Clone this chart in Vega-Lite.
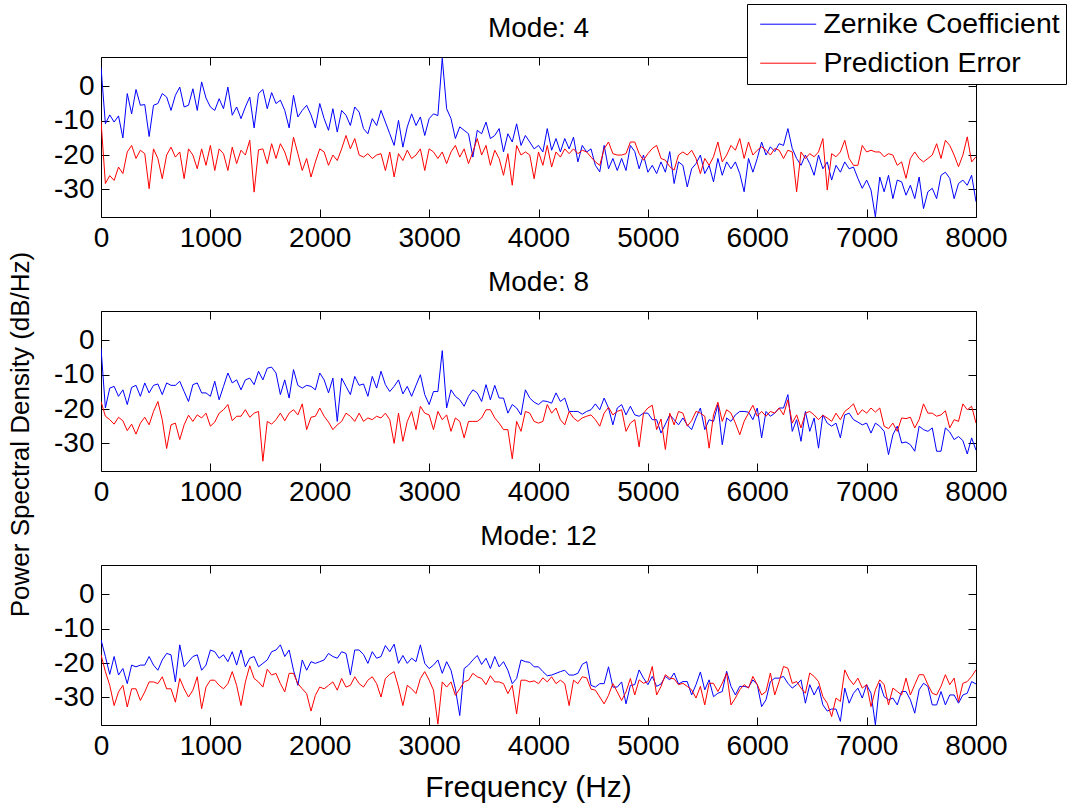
{
  "$schema": "https://vega.github.io/schema/vega-lite/v6.json",
  "background": "white",
  "padding": {"left": 7, "top": 3, "right": 0, "bottom": 0},
  "spacing": 94,
  "bounds": "flush",
  "config": {
    "font": "Liberation Sans",
    "view": {"stroke": "black", "strokeWidth": 1},
    "title": {"font": "Liberation Sans", "fontSize": 28, "fontWeight": "normal", "color": "black", "anchor": "middle", "offset": 14, "frame": "group"},
    "axis": {
      "domain": false, "grid": false, "labelFlush": false,
      "tickColor": "black", "tickSize": -8, "tickWidth": 1,
      "labelFont": "Liberation Sans", "labelFontSize": 28, "labelColor": "black", "labelPadding": 15,
      "titleFont": "Liberation Sans", "titleFontSize": 29, "titleFontWeight": "normal", "titleColor": "black"
    }
  },
  "datasets": {
    "p4": [
      {"f":0,"z":5.6,"e":-10},{"f":40,"z":-10.9,"e":-28.3},{"f":80,"z":-8.3,"e":-26},{"f":120,"z":-10.4,"e":-27.4},{"f":160,"z":-8.6,"e":-23.5},
      {"f":200,"z":-15,"e":-25.4},{"f":240,"z":-2.1,"e":-19.1},{"f":280,"z":-8,"e":-17.2},{"f":320,"z":-0.9,"e":-21},{"f":360,"z":-5.5,"e":-18.6},
      {"f":400,"z":-5.3,"e":-19.6},{"f":440,"z":-14.6,"e":-29.8},{"f":480,"z":-5.5,"e":-18.2},{"f":520,"z":-5,"e":-21},{"f":560,"z":-2.1,"e":-26.9},
      {"f":600,"z":-3.1,"e":-20},{"f":640,"z":-7,"e":-17.7},{"f":680,"z":-2.6,"e":-20.6},{"f":720,"z":-0.2,"e":-19.1},{"f":760,"z":-6,"e":-26.9},
      {"f":800,"z":-5.5,"e":-18.2},{"f":840,"z":-0.7,"e":-20},{"f":880,"z":-7,"e":-24},{"f":920,"z":1.3,"e":-18.2},{"f":960,"z":-3.4,"e":-23},
      {"f":1000,"z":-6,"e":-17.2},{"f":1040,"z":-7,"e":-24.5},{"f":1080,"z":-3.6,"e":-18.2},{"f":1120,"z":-6.5,"e":-19.6},{"f":1160,"z":-0.2,"e":-24.5},
      {"f":1200,"z":-8.4,"e":-17.7},{"f":1240,"z":-6,"e":-22.5},{"f":1280,"z":-9.4,"e":-18.6},{"f":1320,"z":-6,"e":-20},{"f":1360,"z":-3.1,"e":-15.7},
      {"f":1400,"z":-12.1,"e":-30.8},{"f":1440,"z":-2.1,"e":-18.5},{"f":1480,"z":-0.9,"e":-18.2},{"f":1520,"z":-6.5,"e":-22.5},{"f":1560,"z":-1.8,"e":-16.7},
      {"f":1600,"z":-5,"e":-21},{"f":1640,"z":-4,"e":-16.7},{"f":1680,"z":-7,"e":-19.1},{"f":1720,"z":-12.1,"e":-23},{"f":1760,"z":-2.6,"e":-14.8},
      {"f":1800,"z":-8.9,"e":-19.6},{"f":1840,"z":-7,"e":-24.5},{"f":1880,"z":-5.5,"e":-21},{"f":1920,"z":-8.3,"e":-26.4},{"f":1960,"z":-12.1,"e":-22},
      {"f":2000,"z":-5,"e":-18.2},{"f":2040,"z":-9.4,"e":-19.1},{"f":2080,"z":-12.8,"e":-23},{"f":2120,"z":-6.5,"e":-20},{"f":2160,"z":-13.3,"e":-21.6},
      {"f":2200,"z":-7,"e":-18.2},{"f":2240,"z":-8.4,"e":-14.3},{"f":2280,"z":-11.4,"e":-18.2},{"f":2320,"z":-6,"e":-15.2},{"f":2360,"z":-7.5,"e":-20},
      {"f":2400,"z":-12.3,"e":-20.6},{"f":2440,"z":-13.8,"e":-19.6},{"f":2480,"z":-9.4,"e":-21},{"f":2520,"z":-11.4,"e":-20},{"f":2560,"z":-7,"e":-19.6},
      {"f":2600,"z":-10.4,"e":-24.5},{"f":2640,"z":-13.8,"e":-19.1},{"f":2680,"z":-17.2,"e":-26.4},{"f":2720,"z":-9.9,"e":-19.6},{"f":2760,"z":-17.7,"e":-21.6},
      {"f":2800,"z":-11.8,"e":-18.6},{"f":2840,"z":-8,"e":-21},{"f":2880,"z":-11.4,"e":-20},{"f":2920,"z":-8.9,"e":-18.2},{"f":2960,"z":-14.3,"e":-24.5},
      {"f":3000,"z":-9.4,"e":-18.2},{"f":3040,"z":-8,"e":-19.1},{"f":3080,"z":-8.5,"e":-21},{"f":3120,"z":8.2,"e":-19.1},{"f":3160,"z":-6.5,"e":-22.5},
      {"f":3200,"z":-9.4,"e":-19.1},{"f":3240,"z":-15.2,"e":-17.2},{"f":3280,"z":-11.8,"e":-20.6},{"f":3320,"z":-12.8,"e":-18.2},{"f":3360,"z":-13.8,"e":-22.5},
      {"f":3400,"z":-20.6,"e":-19.1},{"f":3440,"z":-12.8,"e":-15.2},{"f":3480,"z":-13.8,"e":-20},{"f":3520,"z":-10.4,"e":-17.2},{"f":3560,"z":-15.2,"e":-23},
      {"f":3600,"z":-14.3,"e":-18.6},{"f":3640,"z":-12.3,"e":-21},{"f":3680,"z":-19.1,"e":-25.9},{"f":3720,"z":-13.8,"e":-19.6},{"f":3760,"z":-16.2,"e":-28.8},
      {"f":3800,"z":-10.9,"e":-17.2},{"f":3840,"z":-17.2,"e":-20},{"f":3880,"z":-14.3,"e":-19.1},{"f":3920,"z":-16.2,"e":-20},{"f":3960,"z":-18.2,"e":-26.9},
      {"f":4000,"z":-17.2,"e":-19.1},{"f":4040,"z":-19.1,"e":-23},{"f":4080,"z":-12.3,"e":-17.2},{"f":4120,"z":-18.6,"e":-23.5},{"f":4160,"z":-15.2,"e":-19.1},
      {"f":4200,"z":-19.1,"e":-20.6},{"f":4240,"z":-15.2,"e":-18.2},{"f":4280,"z":-18.2,"e":-19.6},{"f":4320,"z":-14.8,"e":-18.2},{"f":4360,"z":-22,"e":-19.6},
      {"f":4400,"z":-17.2,"e":-18.6},{"f":4440,"z":-19.1,"e":-19.1},{"f":4480,"z":-18.2,"e":-20.6},{"f":4520,"z":-23,"e":-22},{"f":4560,"z":-24.9,"e":-23},
      {"f":4600,"z":-17.2,"e":-18.2},{"f":4640,"z":-24,"e":-16.2},{"f":4680,"z":-21,"e":-19.6},{"f":4720,"z":-24.5,"e":-20},{"f":4760,"z":-21,"e":-20},
      {"f":4800,"z":-24.5,"e":-19.6},{"f":4840,"z":-17.2,"e":-16.2},{"f":4880,"z":-19,"e":-16.2},{"f":4920,"z":-24,"e":-19.6},{"f":4960,"z":-20,"e":-21.5},
      {"f":5000,"z":-25,"e":-19.6},{"f":5040,"z":-23,"e":-18.1},{"f":5080,"z":-25.4,"e":-17.2},{"f":5120,"z":-22,"e":-21},{"f":5160,"z":-25,"e":-21.5},
      {"f":5200,"z":-19,"e":-23.4},{"f":5240,"z":-28.3,"e":-24.4},{"f":5280,"z":-22,"e":-20},{"f":5320,"z":-23,"e":-19.1},{"f":5360,"z":-29.3,"e":-20},
      {"f":5400,"z":-24,"e":-18.6},{"f":5440,"z":-22.5,"e":-21},{"f":5480,"z":-20,"e":-25.4},{"f":5520,"z":-25.4,"e":-21},{"f":5560,"z":-23,"e":-23},
      {"f":5600,"z":-27.8,"e":-20.5},{"f":5640,"z":-21,"e":-16.2},{"f":5680,"z":-25.9,"e":-22},{"f":5720,"z":-22,"e":-20},{"f":5760,"z":-24,"e":-17.2},
      {"f":5800,"z":-22,"e":-18.6},{"f":5840,"z":-25.4,"e":-15.2},{"f":5880,"z":-30.7,"e":-21},{"f":5920,"z":-21,"e":-16.2},{"f":5960,"z":-25,"e":-20},
      {"f":6000,"z":-21,"e":-18.6},{"f":6040,"z":-16.2,"e":-17.6},{"f":6080,"z":-20,"e":-18.6},{"f":6120,"z":-17.6,"e":-20},{"f":6160,"z":-19,"e":-18.1},
      {"f":6200,"z":-16.7,"e":-18.6},{"f":6240,"z":-17.2,"e":-21},{"f":6280,"z":-12.3,"e":-18.6},{"f":6320,"z":-18.1,"e":-19.1},{"f":6360,"z":-21,"e":-30.7},
      {"f":6400,"z":-23,"e":-19.1},{"f":6440,"z":-20,"e":-21},{"f":6480,"z":-22.5,"e":-19.6},{"f":6520,"z":-25.9,"e":-20.5},{"f":6560,"z":-20,"e":-19.1},
      {"f":6600,"z":-24,"e":-15.2},{"f":6640,"z":-22,"e":-30.2},{"f":6680,"z":-27.3,"e":-19.6},{"f":6720,"z":-23,"e":-20.5},{"f":6760,"z":-25,"e":-19.1},
      {"f":6800,"z":-22,"e":-15.7},{"f":6840,"z":-24,"e":-21},{"f":6880,"z":-23.5,"e":-23},{"f":6920,"z":-26.8,"e":-23},{"f":6960,"z":-29.7,"e":-17.2},
      {"f":7000,"z":-27.3,"e":-19.1},{"f":7040,"z":-30.2,"e":-18.6},{"f":7080,"z":-38,"e":-19.1},{"f":7120,"z":-26.4,"e":-19.1},{"f":7160,"z":-30.7,"e":-20.5},
      {"f":7200,"z":-25.9,"e":-19.6},{"f":7240,"z":-32.7,"e":-20},{"f":7280,"z":-27.3,"e":-23},{"f":7320,"z":-27.8,"e":-22},{"f":7360,"z":-31.7,"e":-26.8},
      {"f":7400,"z":-28.8,"e":-21},{"f":7440,"z":-32.7,"e":-19.1},{"f":7480,"z":-26.4,"e":-21},{"f":7520,"z":-35.6,"e":-22},{"f":7560,"z":-30.7,"e":-21},
      {"f":7600,"z":-29.7,"e":-20},{"f":7640,"z":-32.7,"e":-16.7},{"f":7680,"z":-25.9,"e":-21},{"f":7720,"z":-25,"e":-15.7},{"f":7760,"z":-26.8,"e":-17.2},
      {"f":7800,"z":-32.7,"e":-20},{"f":7840,"z":-28.3,"e":-23.4},{"f":7880,"z":-27.3,"e":-20},{"f":7920,"z":-28.8,"e":-14.7},{"f":7960,"z":-25.9,"e":-22},
      {"f":8000,"z":-33.6,"e":-20.5}
    ],
    "p8": [
      {"f":0,"z":-2.2,"e":-17.8},{"f":40,"z":-19.7,"e":-22.1},{"f":80,"z":-13.9,"e":-23.1},{"f":120,"z":-13.4,"e":-24.4},{"f":160,"z":-16.3,"e":-22.4},
      {"f":200,"z":-14.4,"e":-23.4},{"f":240,"z":-18.7,"e":-26.3},{"f":280,"z":-13.7,"e":-24.4},{"f":320,"z":-13.1,"e":-27.3},{"f":360,"z":-16.3,"e":-24.1},
      {"f":400,"z":-12.4,"e":-22.4},{"f":440,"z":-15.3,"e":-24.6},{"f":480,"z":-13.1,"e":-20.7},{"f":520,"z":-12.7,"e":-17.8},{"f":560,"z":-15.8,"e":-23.1},
      {"f":600,"z":-12.4,"e":-31.5},{"f":640,"z":-13.1,"e":-24.6},{"f":680,"z":-13.1,"e":-24.1},{"f":720,"z":-11.9,"e":-28.9},{"f":760,"z":-14.9,"e":-24.6},
      {"f":800,"z":-17.8,"e":-21.8},{"f":840,"z":-12.9,"e":-23.6},{"f":880,"z":-12.4,"e":-21.7},{"f":920,"z":-15.3,"e":-22.6},{"f":960,"z":-15.3,"e":-21.2},
      {"f":1000,"z":-16.3,"e":-25},{"f":1040,"z":-11.9,"e":-23.8},{"f":1080,"z":-17.3,"e":-21.2},{"f":1120,"z":-13.4,"e":-20.2},{"f":1160,"z":-9.5,"e":-18.7},
      {"f":1200,"z":-12.4,"e":-23.4},{"f":1240,"z":-11.5,"e":-22.1},{"f":1280,"z":-14.4,"e":-22.1},{"f":1320,"z":-11.5,"e":-20.2},{"f":1360,"z":-11,"e":-22.4},
      {"f":1400,"z":-12.9,"e":-21.2},{"f":1440,"z":-9,"e":-20.7},{"f":1480,"z":-11.5,"e":-35.2},{"f":1520,"z":-8.1,"e":-23.6},{"f":1560,"z":-7.8,"e":-24.4},
      {"f":1600,"z":-9.5,"e":-23.1},{"f":1640,"z":-15.8,"e":-21.2},{"f":1680,"z":-11.5,"e":-23.4},{"f":1720,"z":-16.8,"e":-21.2},{"f":1760,"z":-8.5,"e":-20.2},
      {"f":1800,"z":-13.1,"e":-21.7},{"f":1840,"z":-13.9,"e":-18.5},{"f":1880,"z":-13.1,"e":-26},{"f":1920,"z":-13.4,"e":-22.4},{"f":1960,"z":-14.4,"e":-22.1},
      {"f":2000,"z":-9.5,"e":-19.7},{"f":2040,"z":-11.5,"e":-22.1},{"f":2080,"z":-15.3,"e":-23.8},{"f":2120,"z":-11,"e":-26},{"f":2160,"z":-23.6,"e":-24.6},
      {"f":2200,"z":-11,"e":-23.6},{"f":2240,"z":-13.4,"e":-21.2},{"f":2280,"z":-15.8,"e":-22.1},{"f":2320,"z":-10.5,"e":-23.6},{"f":2360,"z":-13.1,"e":-21.2},
      {"f":2400,"z":-12.7,"e":-23.6},{"f":2440,"z":-16.3,"e":-22.6},{"f":2480,"z":-10.5,"e":-23.1},{"f":2520,"z":-13.9,"e":-22.1},{"f":2560,"z":-9,"e":-22.6},
      {"f":2600,"z":-12.9,"e":-21.2},{"f":2640,"z":-14.9,"e":-23.1},{"f":2680,"z":-13.4,"e":-30},{"f":2720,"z":-11.5,"e":-21.2},{"f":2760,"z":-15.6,"e":-29.4},
      {"f":2800,"z":-13.4,"e":-23.6},{"f":2840,"z":-16.3,"e":-20.7},{"f":2880,"z":-13.1,"e":-26},{"f":2920,"z":-10,"e":-19.2},{"f":2960,"z":-15.8,"e":-21.2},
      {"f":3000,"z":-18.7,"e":-21.7},{"f":3040,"z":-14.9,"e":-26},{"f":3080,"z":-14.9,"e":-20.7},{"f":3120,"z":-3,"e":-23.1},{"f":3160,"z":-19.7,"e":-21.7},
      {"f":3200,"z":-14.4,"e":-26.5},{"f":3240,"z":-16.3,"e":-22.6},{"f":3280,"z":-17.3,"e":-23.6},{"f":3320,"z":-19.2,"e":-28.4},{"f":3360,"z":-16.3,"e":-23.6},
      {"f":3400,"z":-14.4,"e":-23.6},{"f":3440,"z":-15.3,"e":-23.6},{"f":3480,"z":-17.8,"e":-22.6},{"f":3520,"z":-12.9,"e":-20.2},{"f":3560,"z":-17.3,"e":-20.2},
      {"f":3600,"z":-13.1,"e":-22.6},{"f":3640,"z":-16.8,"e":-24.1},{"f":3680,"z":-16.8,"e":-26},{"f":3720,"z":-21.2,"e":-26},{"f":3760,"z":-18.7,"e":-34.5},
      {"f":3800,"z":-19.7,"e":-23.6},{"f":3840,"z":-21.7,"e":-26.5},{"f":3880,"z":-14.4,"e":-20.7},{"f":3920,"z":-16.8,"e":-21.2},{"f":3960,"z":-18,"e":-23.6},
      {"f":4000,"z":-18.7,"e":-24.1},{"f":4040,"z":-17.6,"e":-23.6},{"f":4080,"z":-17.8,"e":-18.7},{"f":4120,"z":-18.3,"e":-21.2},{"f":4160,"z":-15.3,"e":-19.7},
      {"f":4200,"z":-17.8,"e":-23.1},{"f":4240,"z":-16.8,"e":-24.6},{"f":4280,"z":-20.7,"e":-20.7},{"f":4320,"z":-20.7,"e":-22.6},{"f":4360,"z":-20.7,"e":-23.6},
      {"f":4400,"z":-21.5,"e":-22.6},{"f":4440,"z":-20.7,"e":-22.1},{"f":4480,"z":-20.2,"e":-21.7},{"f":4520,"z":-18.5,"e":-23.1},{"f":4560,"z":-20.2,"e":-25},
      {"f":4600,"z":-16.8,"e":-21.2},{"f":4640,"z":-19.7,"e":-19.5},{"f":4680,"z":-24.6,"e":-21.7},{"f":4720,"z":-19.7,"e":-20.7},{"f":4760,"z":-18.7,"e":-20.2},
      {"f":4800,"z":-21.7,"e":-26.5},{"f":4840,"z":-19.2,"e":-24.1},{"f":4880,"z":-21.7,"e":-23.1},{"f":4920,"z":-22.1,"e":-31},{"f":4960,"z":-21.2,"e":-21.2},
      {"f":5000,"z":-21.2,"e":-19.7},{"f":5040,"z":-23.1,"e":-18.9},{"f":5080,"z":-23.1,"e":-26},{"f":5120,"z":-27,"e":-22.9},{"f":5160,"z":-24.4,"e":-31.8},
      {"f":5200,"z":-21.7,"e":-21.2},{"f":5240,"z":-23.1,"e":-24.6},{"f":5280,"z":-24.6,"e":-20.7},{"f":5320,"z":-22.6,"e":-21.2},{"f":5360,"z":-24.6,"e":-25},
      {"f":5400,"z":-26,"e":-23.4},{"f":5440,"z":-22.6,"e":-20.7},{"f":5480,"z":-19.7,"e":-21.2},{"f":5520,"z":-26,"e":-22.1},{"f":5560,"z":-23.1,"e":-31.4},
      {"f":5600,"z":-23.6,"e":-21.7},{"f":5640,"z":-18.7,"e":-18},{"f":5680,"z":-30.4,"e":-23.6},{"f":5720,"z":-22.6,"e":-20.2},{"f":5760,"z":-23.6,"e":-21.2},
      {"f":5800,"z":-21.7,"e":-24.1},{"f":5840,"z":-20.7,"e":-27.5},{"f":5880,"z":-20.7,"e":-23.6},{"f":5920,"z":-20.9,"e":-21.2},{"f":5960,"z":-23.1,"e":-18.9},
      {"f":6000,"z":-19.7,"e":-22.1},{"f":6040,"z":-28.4,"e":-20.7},{"f":6080,"z":-20.7,"e":-22.1},{"f":6120,"z":-22.1,"e":-20.7},{"f":6160,"z":-21.2,"e":-21.2},
      {"f":6200,"z":-19.7,"e":-19.7},{"f":6240,"z":-19.7,"e":-21.7},{"f":6280,"z":-15.8,"e":-17.3},{"f":6320,"z":-26.5,"e":-24.1},{"f":6360,"z":-23.1,"e":-21.7},
      {"f":6400,"z":-29.4,"e":-25.5},{"f":6440,"z":-20.7,"e":-21.2},{"f":6480,"z":-26.5,"e":-20.7},{"f":6520,"z":-22.6,"e":-21.7},{"f":6560,"z":-31.4,"e":-23.1},
      {"f":6600,"z":-21.7,"e":-21.8},{"f":6640,"z":-24.1,"e":-22.6},{"f":6680,"z":-25,"e":-23.6},{"f":6720,"z":-24.1,"e":-21.2},{"f":6760,"z":-28.4,"e":-23.1},
      {"f":6800,"z":-21.7,"e":-20.7},{"f":6840,"z":-21.2,"e":-19.7},{"f":6880,"z":-23.1,"e":-18.5},{"f":6920,"z":-23.8,"e":-21.7},{"f":6960,"z":-24.6,"e":-20.2},
      {"f":7000,"z":-24.1,"e":-21.2},{"f":7040,"z":-27,"e":-19.7},{"f":7080,"z":-24.1,"e":-20.9},{"f":7120,"z":-25,"e":-19.7},{"f":7160,"z":-26.5,"e":-25},
      {"f":7200,"z":-33.3,"e":-25.7},{"f":7240,"z":-27.5,"e":-24.1},{"f":7280,"z":-25,"e":-26.5},{"f":7320,"z":-29.9,"e":-22.6},{"f":7360,"z":-29.6,"e":-22.8},
      {"f":7400,"z":-30.4,"e":-22.4},{"f":7440,"z":-32.3,"e":-25.5},{"f":7480,"z":-25,"e":-23.1},{"f":7520,"z":-26,"e":-18.5},{"f":7560,"z":-26.5,"e":-21.2},
      {"f":7600,"z":-25.5,"e":-21.2},{"f":7640,"z":-32.3,"e":-22.1},{"f":7680,"z":-32.3,"e":-21.7},{"f":7720,"z":-25.5,"e":-20.5},{"f":7760,"z":-26.7,"e":-25.5},
      {"f":7800,"z":-28.9,"e":-23.1},{"f":7840,"z":-28,"e":-23.6},{"f":7880,"z":-29.2,"e":-18.5},{"f":7920,"z":-33.1,"e":-20.2},{"f":7960,"z":-28.4,"e":-19.2},
      {"f":8000,"z":-32,"e":-24.1}
    ],
    "p12": [
      {"f":0,"z":-13.2,"e":-17.6},{"f":40,"z":-18.1,"e":-22.5},{"f":80,"z":-23.3,"e":-26.5},{"f":120,"z":-18.1,"e":-32.4},{"f":160,"z":-23.5,"e":-28.4},
      {"f":200,"z":-21.6,"e":-26.5},{"f":240,"z":-26,"e":-32.8},{"f":280,"z":-20.6,"e":-27.5},{"f":320,"z":-21.1,"e":-27.5},{"f":360,"z":-20.6,"e":-30.9},
      {"f":400,"z":-20.6,"e":-28.4},{"f":440,"z":-18.1,"e":-25.5},{"f":480,"z":-20.6,"e":-25.5},{"f":520,"z":-22.1,"e":-26},{"f":560,"z":-19.1,"e":-24},
      {"f":600,"z":-17.2,"e":-27.5},{"f":640,"z":-17.6,"e":-27.5},{"f":680,"z":-25.5,"e":-31.4},{"f":720,"z":-14.7,"e":-24.5},{"f":760,"z":-21.1,"e":-27.5},
      {"f":800,"z":-19.6,"e":-29.9},{"f":840,"z":-18.1,"e":-27.9},{"f":880,"z":-17.6,"e":-24},{"f":920,"z":-22.1,"e":-33.3},{"f":960,"z":-20.6,"e":-27},
      {"f":1000,"z":-16.2,"e":-25},{"f":1040,"z":-16.7,"e":-25},{"f":1080,"z":-18.6,"e":-26.5},{"f":1120,"z":-17.6,"e":-27.5},{"f":1160,"z":-19.6,"e":-26},
      {"f":1200,"z":-16.7,"e":-22.5},{"f":1240,"z":-20.6,"e":-26.5},{"f":1280,"z":-16.2,"e":-32.4},{"f":1320,"z":-21.1,"e":-25.5},{"f":1360,"z":-18.6,"e":-20.8},
      {"f":1400,"z":-18.1,"e":-24.5},{"f":1440,"z":-21.1,"e":-25.5},{"f":1480,"z":-20.1,"e":-27},{"f":1520,"z":-19.1,"e":-21.8},{"f":1560,"z":-16.7,"e":-23.5},
      {"f":1600,"z":-16.2,"e":-23},{"f":1640,"z":-14.7,"e":-26},{"f":1680,"z":-18.1,"e":-28.4},{"f":1720,"z":-16.2,"e":-23},{"f":1760,"z":-22.1,"e":-23},
      {"f":1800,"z":-26.5,"e":-26},{"f":1840,"z":-19.1,"e":-27.5},{"f":1880,"z":-22.1,"e":-28.9},{"f":1920,"z":-19.6,"e":-34},{"f":1960,"z":-20.1,"e":-29.4},
      {"f":2000,"z":-19.6,"e":-27},{"f":2040,"z":-19.1,"e":-27.5},{"f":2080,"z":-17.2,"e":-26.5},{"f":2120,"z":-18.1,"e":-25.5},{"f":2160,"z":-18.6,"e":-27.9},
      {"f":2200,"z":-16.7,"e":-24.5},{"f":2240,"z":-17.2,"e":-27},{"f":2280,"z":-23.5,"e":-26.5},{"f":2320,"z":-16.2,"e":-24},{"f":2360,"z":-16.2,"e":-26},
      {"f":2400,"z":-17.5,"e":-27},{"f":2440,"z":-20.1,"e":-25},{"f":2480,"z":-16.7,"e":-24},{"f":2520,"z":-18.6,"e":-26},{"f":2560,"z":-18.1,"e":-29.9},
      {"f":2600,"z":-14.9,"e":-24.5},{"f":2640,"z":-16.7,"e":-23.3},{"f":2680,"z":-14.5,"e":-22.5},{"f":2720,"z":-20.1,"e":-27},{"f":2760,"z":-17.8,"e":-32.4},
      {"f":2800,"z":-20.1,"e":-26.5},{"f":2840,"z":-18.6,"e":-27.5},{"f":2880,"z":-19.6,"e":-28.9},{"f":2920,"z":-14.7,"e":-24.5},{"f":2960,"z":-20.1,"e":-22.5},
      {"f":3000,"z":-21.6,"e":-25},{"f":3040,"z":-20.6,"e":-27.9},{"f":3080,"z":-19.1,"e":-37.8},{"f":3120,"z":-23,"e":-25.5},{"f":3160,"z":-19.6,"e":-27},
      {"f":3200,"z":-22.1,"e":-25.5},{"f":3240,"z":-27.5,"e":-29.4},{"f":3280,"z":-35.3,"e":-27.5},{"f":3320,"z":-21.6,"e":-25.5},{"f":3360,"z":-20.6,"e":-25},
      {"f":3400,"z":-19.1,"e":-23},{"f":3440,"z":-17.8,"e":-24},{"f":3480,"z":-20.4,"e":-24.5},{"f":3520,"z":-18.6,"e":-26.3},{"f":3560,"z":-21.6,"e":-23.7},
      {"f":3600,"z":-18.1,"e":-25.5},{"f":3640,"z":-21.1,"e":-25.5},{"f":3680,"z":-19.6,"e":-26},{"f":3720,"z":-22.1,"e":-28.9},{"f":3760,"z":-26,"e":-26.5},
      {"f":3800,"z":-24.5,"e":-34.8},{"f":3840,"z":-19.1,"e":-25},{"f":3880,"z":-19.6,"e":-25},{"f":3920,"z":-19.8,"e":-25.5},{"f":3960,"z":-21.1,"e":-25.2},
      {"f":4000,"z":-21.1,"e":-26},{"f":4040,"z":-22.5,"e":-24.3},{"f":4080,"z":-23.7,"e":-25.5},{"f":4120,"z":-23.5,"e":-24},{"f":4160,"z":-23,"e":-26},
      {"f":4200,"z":-22.5,"e":-25},{"f":4240,"z":-22.1,"e":-26},{"f":4280,"z":-23.5,"e":-32.4},{"f":4320,"z":-23.5,"e":-25},{"f":4360,"z":-23,"e":-26},
      {"f":4400,"z":-20.4,"e":-24},{"f":4440,"z":-19.6,"e":-24.3},{"f":4480,"z":-26.5,"e":-27.6},{"f":4520,"z":-27,"e":-27.9},{"f":4560,"z":-26,"e":-29.9},
      {"f":4600,"z":-26,"e":-31.9},{"f":4640,"z":-21.1,"e":-29.4},{"f":4680,"z":-27,"e":-26},{"f":4720,"z":-27,"e":-28.4},{"f":4760,"z":-25.5,"e":-30.9},
      {"f":4800,"z":-31.9,"e":-28.4},{"f":4840,"z":-26.5,"e":-24.5},{"f":4880,"z":-26.3,"e":-29.3},{"f":4920,"z":-22,"e":-24.9},{"f":4960,"z":-24.4,"e":-25.9},
      {"f":5000,"z":-26.3,"e":-25.4},{"f":5040,"z":-23.9,"e":-21},{"f":5080,"z":-26.8,"e":-29.3},{"f":5120,"z":-26.1,"e":-26.8},{"f":5160,"z":-23.9,"e":-23.4},
      {"f":5200,"z":-24.9,"e":-24.4},{"f":5240,"z":-22.9,"e":-24.6},{"f":5280,"z":-26.1,"e":-26.3},{"f":5320,"z":-25.4,"e":-25.9},{"f":5360,"z":-25.4,"e":-26.8},
      {"f":5400,"z":-29.3,"e":-27.8},{"f":5440,"z":-26.3,"e":-30.2},{"f":5480,"z":-22.6,"e":-26.8},{"f":5520,"z":-27.8,"e":-32.2},{"f":5560,"z":-24.9,"e":-25.9},
      {"f":5600,"z":-29.8,"e":-25.9},{"f":5640,"z":-28.8,"e":-28.3},{"f":5680,"z":-28.3,"e":-25.9},{"f":5720,"z":-22.4,"e":-22.9},{"f":5760,"z":-26.8,"e":-32.2},
      {"f":5800,"z":-29.3,"e":-30.2},{"f":5840,"z":-26.8,"e":-27.8},{"f":5880,"z":-26.8,"e":-26.3},{"f":5920,"z":-27.1,"e":-27.3},{"f":5960,"z":-24.9,"e":-23.9},
      {"f":6000,"z":-26.3,"e":-26.3},{"f":6040,"z":-32.7,"e":-29.3},{"f":6080,"z":-30.7,"e":-28.3},{"f":6120,"z":-25.4,"e":-22.9},{"f":6160,"z":-24.4,"e":-29.3},
      {"f":6200,"z":-24.4,"e":-25.4},{"f":6240,"z":-23.9,"e":-21},{"f":6280,"z":-25.9,"e":-21.5},{"f":6320,"z":-27.3,"e":-25.9},{"f":6360,"z":-26.3,"e":-25.4},
      {"f":6400,"z":-24.9,"e":-27.3},{"f":6440,"z":-31.7,"e":-28.8},{"f":6480,"z":-26.3,"e":-22.9},{"f":6520,"z":-29.3,"e":-23.9},{"f":6560,"z":-26.8,"e":-25.4},
      {"f":6600,"z":-32.2,"e":-29.8},{"f":6640,"z":-34,"e":-31.7},{"f":6680,"z":-33.4,"e":-35.6},{"f":6720,"z":-33.4,"e":-30.2},{"f":6760,"z":-37,"e":-31.2},
      {"f":6800,"z":-27.3,"e":-22},{"f":6840,"z":-31.7,"e":-24.6},{"f":6880,"z":-28.8,"e":-26.3},{"f":6920,"z":-27.3,"e":-24.4},{"f":6960,"z":-30.2,"e":-27.3},
      {"f":7000,"z":-26.3,"e":-26.3},{"f":7040,"z":-28.8,"e":-32.7},{"f":7080,"z":-38,"e":-27.8},{"f":7120,"z":-25.9,"e":-24.9},{"f":7160,"z":-29.8,"e":-26.3},
      {"f":7200,"z":-30.7,"e":-32.2},{"f":7240,"z":-30.2,"e":-27.3},{"f":7280,"z":-32.2,"e":-28.3},{"f":7320,"z":-28.3,"e":-29.3},{"f":7360,"z":-28.3,"e":-24.4},
      {"f":7400,"z":-30.7,"e":-29.3},{"f":7440,"z":-34.6,"e":-26.3},{"f":7480,"z":-27.8,"e":-23.4},{"f":7520,"z":-25.9,"e":-23.4},{"f":7560,"z":-26.8,"e":-26.3},
      {"f":7600,"z":-32.2,"e":-28.8},{"f":7640,"z":-32.2,"e":-29.3},{"f":7680,"z":-28.3,"e":-26.8},{"f":7720,"z":-32.2,"e":-23.4},{"f":7760,"z":-29.3,"e":-26.3},
      {"f":7800,"z":-29.3,"e":-24.4},{"f":7840,"z":-31.7,"e":-31.2},{"f":7880,"z":-29.3,"e":-25.9},{"f":7920,"z":-28.8,"e":-25.4},{"f":7960,"z":-25.4,"e":-23.9},
      {"f":8000,"z":-26.1,"e":-22}
    ]
  },
  "vconcat": [
    {
      "width": 875, "height": 160,
      "title": "Mode: 4",
      "data": {"name": "p4"},
      "transform": [{"fold": ["z", "e"], "as": ["s", "p"]}],
      "layer": [
        {
          "mark": {"type": "line", "strokeWidth": 1, "clip": true},
          "encoding": {
            "x": {"field": "f", "type": "quantitative", "scale": {"domain": [0, 8000], "nice": false},
                  "axis": {"orient": "bottom", "values": [0,1000,2000,3000,4000,5000,6000,7000,8000], "format": "d", "title": null}},
            "y": {"field": "p", "type": "quantitative", "scale": {"domain": [-38.05, 8.56], "nice": false, "zero": false},
                  "axis": {"orient": "left", "values": [-30,-20,-10,0], "labelExpr": "'' + datum.value", "title": "Power Spectral Density (dB/Hz)", "titlePadding": 20, "titleFontSize": 26, "titleY": 377}},
            "color": {"field": "s", "type": "nominal", "scale": {"domain": ["z", "e"], "range": ["#0000ff", "#ff0000"]},
                      "legend": {"orient": "none", "legendX": 646, "legendY": -53, "title": null, "symbolType": "M-1,0H7", "symbolSize": 196, "symbolStrokeWidth": 1,
                                 "labelFont": "Liberation Sans", "labelFontSize": 28.4, "labelColor": "black", "labelOffset": 42, "rowPadding": 10, "padding": 6,
                                 "fillColor": "white", "strokeColor": "black", "labelLimit": 400,
                                 "labelExpr": "datum.value == 'z' ? 'Zernike Coefficient' : 'Prediction Error'"}}
          }
        },
        {
          "mark": {"type": "line", "strokeOpacity": 0},
          "encoding": {
            "x": {"field": "f", "type": "quantitative", "axis": {"orient": "top", "values": [0,1000,2000,3000,4000,5000,6000,7000,8000], "labels": false, "title": null}},
            "y": {"field": "p", "type": "quantitative", "axis": {"orient": "right", "values": [-30,-20,-10,0], "labels": false, "title": null}}
          }
        }
      ],
      "resolve": {"axis": {"x": "independent", "y": "independent"}}
    },
    {
      "width": 875, "height": 160,
      "title": "Mode: 8",
      "data": {"name": "p8"},
      "transform": [{"fold": ["z", "e"], "as": ["s", "p"]}],
      "layer": [
        {
          "mark": {"type": "line", "strokeWidth": 1, "clip": true},
          "encoding": {
            "x": {"field": "f", "type": "quantitative", "scale": {"domain": [0, 8000], "nice": false},
                  "axis": {"orient": "bottom", "values": [0,1000,2000,3000,4000,5000,6000,7000,8000], "format": "d", "title": null}},
            "y": {"field": "p", "type": "quantitative", "scale": {"domain": [-38.05, 8.56], "nice": false, "zero": false},
                  "axis": {"orient": "left", "values": [-30,-20,-10,0], "labelExpr": "'' + datum.value", "title": null}},
            "color": {"field": "s", "type": "nominal", "scale": {"domain": ["z", "e"], "range": ["#0000ff", "#ff0000"]},
                      "legend": {"orient": "none", "legendX": 646, "legendY": -53, "title": null, "symbolType": "M-1,0H7", "symbolSize": 196, "symbolStrokeWidth": 1,
                                 "labelFont": "Liberation Sans", "labelFontSize": 28.4, "labelColor": "black", "labelOffset": 42, "rowPadding": 10, "padding": 6,
                                 "fillColor": "white", "strokeColor": "black", "labelLimit": 400,
                                 "labelExpr": "datum.value == 'z' ? 'Zernike Coefficient' : 'Prediction Error'"}}
          }
        },
        {
          "mark": {"type": "line", "strokeOpacity": 0},
          "encoding": {
            "x": {"field": "f", "type": "quantitative", "axis": {"orient": "top", "values": [0,1000,2000,3000,4000,5000,6000,7000,8000], "labels": false, "title": null}},
            "y": {"field": "p", "type": "quantitative", "axis": {"orient": "right", "values": [-30,-20,-10,0], "labels": false, "title": null}}
          }
        }
      ],
      "resolve": {"axis": {"x": "independent", "y": "independent"}}
    },
    {
      "width": 875, "height": 160,
      "title": "Mode: 12",
      "data": {"name": "p12"},
      "transform": [{"fold": ["z", "e"], "as": ["s", "p"]}],
      "layer": [
        {
          "mark": {"type": "line", "strokeWidth": 1, "clip": true},
          "encoding": {
            "x": {"field": "f", "type": "quantitative", "scale": {"domain": [0, 8000], "nice": false},
                  "axis": {"orient": "bottom", "values": [0,1000,2000,3000,4000,5000,6000,7000,8000], "format": "d", "title": "Frequency (Hz)", "titlePadding": 12, "titleFontSize": 30, "titleX": 427}},
            "y": {"field": "p", "type": "quantitative", "scale": {"domain": [-38.05, 8.56], "nice": false, "zero": false},
                  "axis": {"orient": "left", "values": [-30,-20,-10,0], "labelExpr": "'' + datum.value", "title": null}},
            "color": {"field": "s", "type": "nominal", "scale": {"domain": ["z", "e"], "range": ["#0000ff", "#ff0000"]},
                      "legend": {"orient": "none", "legendX": 646, "legendY": -53, "title": null, "symbolType": "M-1,0H7", "symbolSize": 196, "symbolStrokeWidth": 1,
                                 "labelFont": "Liberation Sans", "labelFontSize": 28.4, "labelColor": "black", "labelOffset": 42, "rowPadding": 10, "padding": 6,
                                 "fillColor": "white", "strokeColor": "black", "labelLimit": 400,
                                 "labelExpr": "datum.value == 'z' ? 'Zernike Coefficient' : 'Prediction Error'"}}
          }
        },
        {
          "mark": {"type": "line", "strokeOpacity": 0},
          "encoding": {
            "x": {"field": "f", "type": "quantitative", "axis": {"orient": "top", "values": [0,1000,2000,3000,4000,5000,6000,7000,8000], "labels": false, "title": null}},
            "y": {"field": "p", "type": "quantitative", "axis": {"orient": "right", "values": [-30,-20,-10,0], "labels": false, "title": null}}
          }
        }
      ],
      "resolve": {"axis": {"x": "independent", "y": "independent"}}
    }
  ],
  "resolve": {"scale": {"color": "shared"}}
}
